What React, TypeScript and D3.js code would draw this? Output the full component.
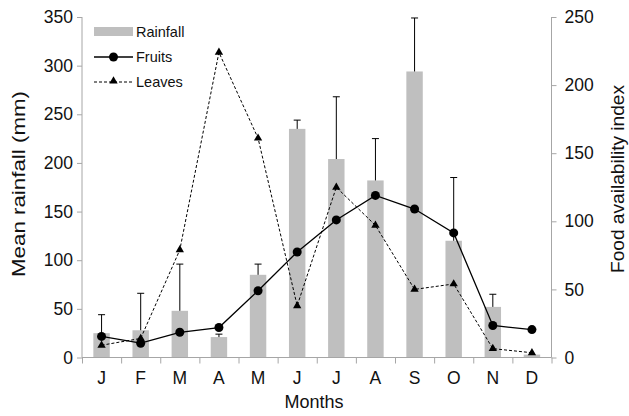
import React, { useRef, useEffect } from "react";
import * as d3 from "d3";

const MONTHS = ["J", "F", "M", "A", "M", "J", "J", "A", "S", "O", "N", "D"];
const RAINFALL = [25, 28, 48, 21, 85, 235, 204, 182, 294, 120, 52, 3];
const RAINFALL_ERR = [19, 38, 48, 3, 11, 9, 64, 43, 55, 65, 13, 0];
const FRUITS = [15.5, 10.5, 18.5, 22, 49, 77.5, 101, 119, 109, 91.5, 23.5, 20.5];
const LEAVES = [9, 14, 79, 224, 161, 38, 125, 97, 50, 54, 6.5, 3.5];
const LEFT_TICKS = [0, 50, 100, 150, 200, 250, 300, 350];
const RIGHT_TICKS = [0, 50, 100, 150, 200, 250];

const W = 629;
const H = 416;
const FONT = "'Liberation Sans', Arial, sans-serif";
const AXIS_COLOR = "#a6a6a6";
const BAR_COLOR = "#bfbfbf";

const App: React.FC = () => {
  const svgRef = useRef<SVGSVGElement | null>(null);

  useEffect(() => {
    if (!svgRef.current) return;
    const svg = d3.select(svgRef.current);
    svg.selectAll("*").remove();

    const left = 82;
    const right = 551.5;
    const top = 17;
    const bottom = 357.5;

    const idx = MONTHS.map((_, i) => i);
    const x = d3.scaleBand<number>().domain(idx).range([left, right]);
    const cx = (i: number) => x(i)! + x.bandwidth() / 2;
    const barW = x.bandwidth() * 0.42;

    const yL = d3.scaleLinear().domain([0, 350]).range([bottom, top]);
    const yR = d3.scaleLinear().domain([0, 250]).range([bottom, top]);

    /* bars */
    svg
      .append("g")
      .selectAll("rect")
      .data(RAINFALL)
      .join("rect")
      .attr("x", (_, i) => cx(i) - barW / 2)
      .attr("y", (d) => yL(d))
      .attr("width", barW)
      .attr("height", (d) => bottom - yL(d))
      .attr("fill", BAR_COLOR);

    /* error bars (upper only) */
    const eb = svg.append("g").attr("stroke", "#000").attr("stroke-width", 1);
    RAINFALL.forEach((v, i) => {
      const e = RAINFALL_ERR[i];
      if (!e) return;
      eb.append("line")
        .attr("x1", cx(i))
        .attr("x2", cx(i))
        .attr("y1", yL(v))
        .attr("y2", yL(v + e));
      eb.append("line")
        .attr("x1", cx(i) - 3.5)
        .attr("x2", cx(i) + 3.5)
        .attr("y1", yL(v + e))
        .attr("y2", yL(v + e));
    });

    /* axes */
    const axL = svg
      .append("g")
      .attr("transform", `translate(${left},0)`)
      .call(d3.axisLeft(yL).tickValues(LEFT_TICKS).tickSize(5).tickPadding(4));
    const axR = svg
      .append("g")
      .attr("transform", `translate(${right},0)`)
      .call(d3.axisRight(yR).tickValues(RIGHT_TICKS).tickSize(5).tickPadding(8));
    const axB = svg
      .append("g")
      .attr("transform", `translate(0,${bottom})`)
      .call(
        d3
          .axisBottom(d3.scaleLinear().domain([0, 12]).range([left, right]))
          .tickValues(d3.range(0, 13))
          .tickSize(6)
          .tickFormat(() => "")
      );
    [axL, axR, axB].forEach((a) => {
      a.select(".domain").remove();
      a.selectAll(".tick line").attr("stroke", AXIS_COLOR);
      a.selectAll(".tick text")
        .attr("fill", "#111")
        .attr("font-size", "17.5px")
        .attr("font-family", FONT);
    });
    svg.append("line").attr("x1", left).attr("x2", left).attr("y1", top).attr("y2", bottom).attr("stroke", AXIS_COLOR);
    svg.append("line").attr("x1", right).attr("x2", right).attr("y1", top).attr("y2", bottom).attr("stroke", AXIS_COLOR);
    svg.append("line").attr("x1", left).attr("x2", right).attr("y1", bottom).attr("y2", bottom).attr("stroke", AXIS_COLOR);

    /* month labels */
    svg
      .append("g")
      .selectAll("text")
      .data(MONTHS)
      .join("text")
      .attr("x", (_, i) => cx(i))
      .attr("y", 384)
      .attr("text-anchor", "middle")
      .attr("font-size", "17.5px")
      .attr("font-family", FONT)
      .attr("fill", "#111")
      .text((d) => d);

    /* lines */
    const lineGen = d3
      .line<number>()
      .x((_, i) => cx(i))
      .y((d) => yR(d));
    svg
      .append("path")
      .attr("d", lineGen(FRUITS))
      .attr("fill", "none")
      .attr("stroke", "#000")
      .attr("stroke-width", 1.3);
    svg
      .append("path")
      .attr("d", lineGen(LEAVES))
      .attr("fill", "none")
      .attr("stroke", "#000")
      .attr("stroke-width", 1)
      .attr("stroke-dasharray", "3,2");

    svg
      .append("g")
      .selectAll("circle")
      .data(FRUITS)
      .join("circle")
      .attr("cx", (_, i) => cx(i))
      .attr("cy", (d) => yR(d))
      .attr("r", 4.5)
      .attr("fill", "#000");

    const tri = d3.symbol().type(d3.symbolTriangle).size(30);
    svg
      .append("g")
      .selectAll("path")
      .data(LEAVES)
      .join("path")
      .attr("d", tri)
      .attr("transform", (d, i) => `translate(${cx(i)},${yR(d)})`)
      .attr("fill", "#000");

    /* axis titles */
    svg
      .append("text")
      .attr("transform", `translate(25,184) rotate(-90)`)
      .attr("text-anchor", "middle")
      .attr("font-size", "18px")
      .attr("font-family", FONT)
      .attr("fill", "#111")
      .attr("textLength", 186)
      .attr("lengthAdjust", "spacingAndGlyphs")
      .text("Mean rainfall (mm)");
    svg
      .append("text")
      .attr("transform", `translate(624,179) rotate(-90)`)
      .attr("text-anchor", "middle")
      .attr("font-size", "18px")
      .attr("font-family", FONT)
      .attr("fill", "#111")
      .attr("textLength", 188)
      .attr("lengthAdjust", "spacingAndGlyphs")
      .text("Food availability index");
    svg
      .append("text")
      .attr("x", 314)
      .attr("y", 408)
      .attr("text-anchor", "middle")
      .attr("font-size", "18px")
      .attr("font-family", FONT)
      .attr("fill", "#111")
      .text("Months");

    /* legend */
    const lg = svg.append("g").attr("font-family", FONT).attr("font-size", "14.5px").attr("fill", "#111");
    lg.append("rect").attr("x", 94).attr("y", 27).attr("width", 39).attr("height", 9).attr("fill", BAR_COLOR);
    lg.append("text").attr("x", 136).attr("y", 37).text("Rainfall");
    lg.append("line").attr("x1", 94).attr("x2", 133).attr("y1", 57).attr("y2", 57).attr("stroke", "#000").attr("stroke-width", 1.3);
    lg.append("circle").attr("cx", 113.5).attr("cy", 57).attr("r", 4.5).attr("fill", "#000");
    lg.append("text").attr("x", 136).attr("y", 62).text("Fruits");
    lg.append("line").attr("x1", 94).attr("x2", 133).attr("y1", 82).attr("y2", 82).attr("stroke", "#000").attr("stroke-width", 1).attr("stroke-dasharray", "3,2");
    lg.append("path").attr("d", tri).attr("transform", "translate(113.5,81)").attr("fill", "#000");
    lg.append("text").attr("x", 136).attr("y", 87).text("Leaves");
  }, []);

  return (
    <svg
      ref={svgRef}
      width={W}
      height={H}
      style={{ position: "absolute", left: 0, top: 0, background: "#fff" }}
    />
  );
};

export default App;
